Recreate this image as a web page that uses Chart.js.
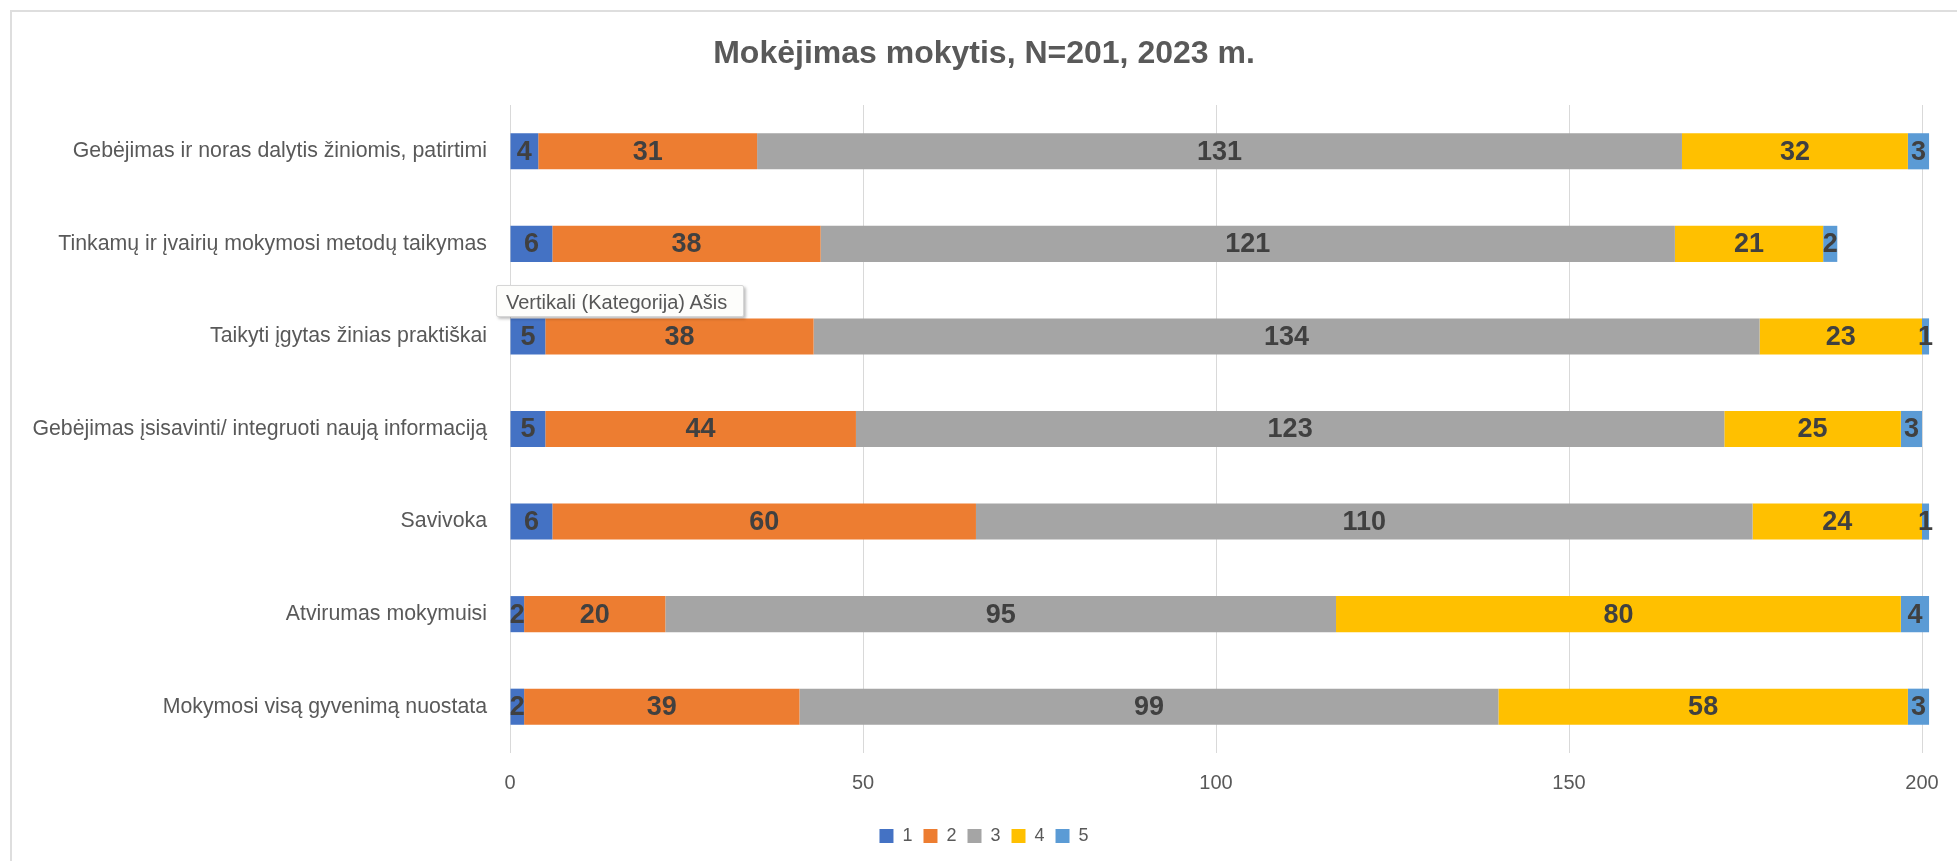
<!DOCTYPE html>
<html>
<head>
<meta charset="utf-8">
<title>Mokėjimas mokytis</title>
<script src="https://cdn.jsdelivr.net/npm/chart.js@4/dist/chart.umd.min.js"></script>
<style>
	body { margin: 0; background: #ffffff; overflow: hidden; }
	#frame { position: absolute; left: 10px; top: 10px; width: 2000px; height: 900px; border-left: 2px solid #dedede; border-top: 2px solid #dedede; }
	#chart_skills { position: absolute; left: 0; top: 0; }
	#hover_tip {
		position: absolute; left: 496px; top: 285px; width: 248px; height: 32px;
		box-sizing: border-box; padding-left: 9px; line-height: 32px;
		font-family: "Liberation Sans", sans-serif; font-size: 20px; color: #575757;
		background: #fdfdfb; border: 1px solid #d6d6d6; border-radius: 2px;
		box-shadow: 2px 2px 3px rgba(0, 0, 0, 0.25); white-space: nowrap;
	}
</style>
</head>
<body>
<div id="frame"></div>
<canvas id="chart_skills" width="1957" height="861"></canvas>
<div id="hover_tip">Vertikali (Kategorija) Ašis</div>
<script>
//Categories, top to bottom
const categories = [
	"Gebėjimas ir noras dalytis žiniomis, patirtimi",
	"Tinkamų ir įvairių mokymosi metodų taikymas",
	"Taikyti įgytas žinias praktiškai",
	"Gebėjimas įsisavinti/ integruoti naują informaciją",
	"Savivoka",
	"Atvirumas mokymuisi",
	"Mokymosi visą gyvenimą nuostata"
];

//Answer counts per rating
const rating1 = [4, 6, 5, 5, 6, 2, 2];
const rating2 = [31, 38, 38, 44, 60, 20, 39];
const rating3 = [131, 121, 134, 123, 110, 95, 99];
const rating4 = [32, 21, 23, 25, 24, 80, 58];
const rating5 = [3, 2, 1, 3, 1, 4, 3];

const seriesNames = ["1", "2", "3", "4", "5"];
const xTicks = [0, 50, 100, 150, 200];

const font_family = "'Liberation Sans', Arial, sans-serif";

//Draws the count in the middle of every segment
const segmentLabels = {
	id: "segmentLabels",
	afterLayout(chart) {
		//let the long category names run into the left padding
		chart.scales.y.left = 0;
	},
	afterDatasetsDraw(chart) {
		const ctx = chart.ctx;
		ctx.save();
		ctx.font = "bold 27px " + font_family;
		ctx.fillStyle = "#404040";
		ctx.textAlign = "center";
		ctx.textBaseline = "middle";
		chart.data.datasets.forEach(function(ds, i) {
			const meta = chart.getDatasetMeta(i);
			meta.data.forEach(function(bar, j) {
				const p = bar.getProps(["x", "y", "base"], true);
				ctx.fillText(String(ds.data[j]), (p.x + p.base) / 2, p.y + 1);
			});
		});
		ctx.restore();
	}
};

const colors = ["#4472C4", "#ED7D31", "#A5A5A5", "#FFC000", "#5B9BD5"];
const values = [rating1, rating2, rating3, rating4, rating5];

const chart_skills = new Chart(document.getElementById("chart_skills"), {
	type: "bar",
	data: {
		labels: categories,
		datasets: values.map(function(v, i) {
			return {
				label: seriesNames[i],
				data: v,
				backgroundColor: colors[i],
				borderWidth: 0,
				barPercentage: 0.39,
				categoryPercentage: 1,
				clip: false
			};
		})
	},
	options: {
		indexAxis: "y",
		responsive: false,
		animation: false,
		layout: {
			padding: { left: 46, right: 35, top: 0, bottom: 6 }
		},
		scales: {
			x: {
				stacked: true,
				min: 0,
				max: 200,
				afterBuildTicks: function(scale) {
					scale.ticks = xTicks.map(function(v) { return { value: v }; });
				},
				afterFit: function(scale) {
					scale.height = 63;
				},
				grid: { color: "#d9d9d9", lineWidth: 1, drawTicks: false },
				border: { display: false },
				ticks: {
					padding: 18,
					color: "#595959",
					font: { family: font_family, size: 20 }
				}
			},
			y: {
				stacked: true,
				afterFit: function(scale) {
					scale.width = 464;
				},
				grid: { display: false, drawTicks: false },
				border: { display: false },
				ticks: {
					padding: 23,
					color: "#595959",
					font: { family: font_family, size: 21.3 }
				}
			}
		},
		plugins: {
			title: {
				display: true,
				text: "Mokėjimas mokytis, N=201, 2023 m.",
				color: "#595959",
				font: { family: font_family, size: 32, weight: "bold" },
				padding: { top: 35, bottom: 31.6 }
			},
			legend: {
				display: true,
				position: "bottom",
				labels: {
					color: "#595959",
					font: { family: font_family, size: 18 },
					boxWidth: 14,
					boxHeight: 14,
					padding: 11
				}
			},
			tooltip: { enabled: false }
		}
	},
	plugins: [segmentLabels]
});
</script>
</body>
</html>
